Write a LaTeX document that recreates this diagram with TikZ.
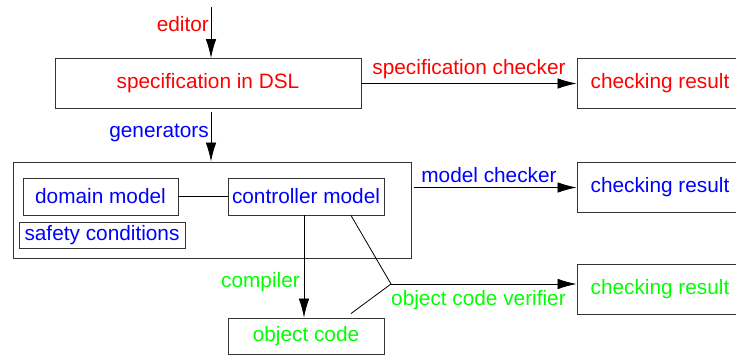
\documentclass[tikz,border=0pt]{standalone}
\usepackage{fontspec}
\setmainfont{Liberation Sans}
\usepackage{tikz}
\usetikzlibrary{arrows.meta,calc}

\begin{document}
\begin{tikzpicture}[x=1pt,y=-1pt,
    every node/.style={font=\fontsize{20.8}{24}\selectfont},
    blk/.style={draw=black!80,line width=0.9pt,inner sep=0pt},
    lbl/.style={inner sep=1pt},
    flow/.style={-{Latex[length=19pt,width=10.5pt]},line width=0.8pt},
    link/.style={line width=0.8pt}]
    \useasboundingbox (0,0) rectangle (736,356);
    % specification level
    \node[blk,text=red,minimum width=306pt,minimum height=50pt] (spec) at (208,83.5) {specification in DSL};
    \node[blk,text=red,minimum width=166pt,minimum height=50pt] (res1) at (660,83.5) {checking result};
    \coordinate (ed) at (211,7);
    \draw[flow] (ed) -- (ed |- spec.north);
    \node[lbl,red,anchor=east] (edlbl) at (210,24) {editor};
    \draw[flow] (spec.east) -- (res1.west)
      node[lbl,red,midway,above=3pt] (sclbl) {specification checker};
    % model level
    \node[blk,minimum width=398pt,minimum height=96pt] (sys) at (212,210) {};
    \draw[flow,shorten <=3pt] (ed |- spec.south) -- (ed |- sys.north);
    \node[lbl,blue,anchor=east] (genlbl) at (210,133) {generators};
    \node[blk,text=blue,minimum width=155pt,minimum height=37pt] (domain) at (100.5,196.5) {domain model\hspace{10pt}};
    \node[blk,text=blue,minimum width=156pt,minimum height=37pt] (ctrl) at (306,196.5) {controller model};
    \node[blk,text=blue,minimum width=166pt,minimum height=26pt] (safety) at (102,235) {safety conditions};
    \draw[link] (domain.east) -- (ctrl.west);
    \node[blk,text=blue,minimum width=166pt,minimum height=50pt] (res2) at (660,187.5) {checking result};
    \draw[flow,shorten <=3pt] (sys.east |- res2.west) -- (res2.west)
      node[lbl,blue,midway,above=3pt,xshift=-5pt] (mclbl) {model checker};
    % code level
    \node[blk,text=green,minimum width=156pt,minimum height=36pt] (obj) at (306,336) {object code\hspace{16pt}};
    \draw[flow] ($(ctrl.south)+(-2,0)$) -- ($(obj.north)+(-2,0)$);
    \node[lbl,green,anchor=east] (cplbl) at (301,282) {compiler};
    \node[blk,text=green,minimum width=166pt,minimum height=50pt] (res3) at (660,289) {checking result};
    \coordinate (join) at (391,284);
    \draw[link] ($(ctrl.south)+(45,0)$) -- (join) -- ($(obj.north)+(45,-4)$);
    \draw[flow] (join) -- (join -| res3.west);
    \node[lbl,green,anchor=north west] (ovlbl) at (390,289) {object code verifier};
\end{tikzpicture}
\end{document}
